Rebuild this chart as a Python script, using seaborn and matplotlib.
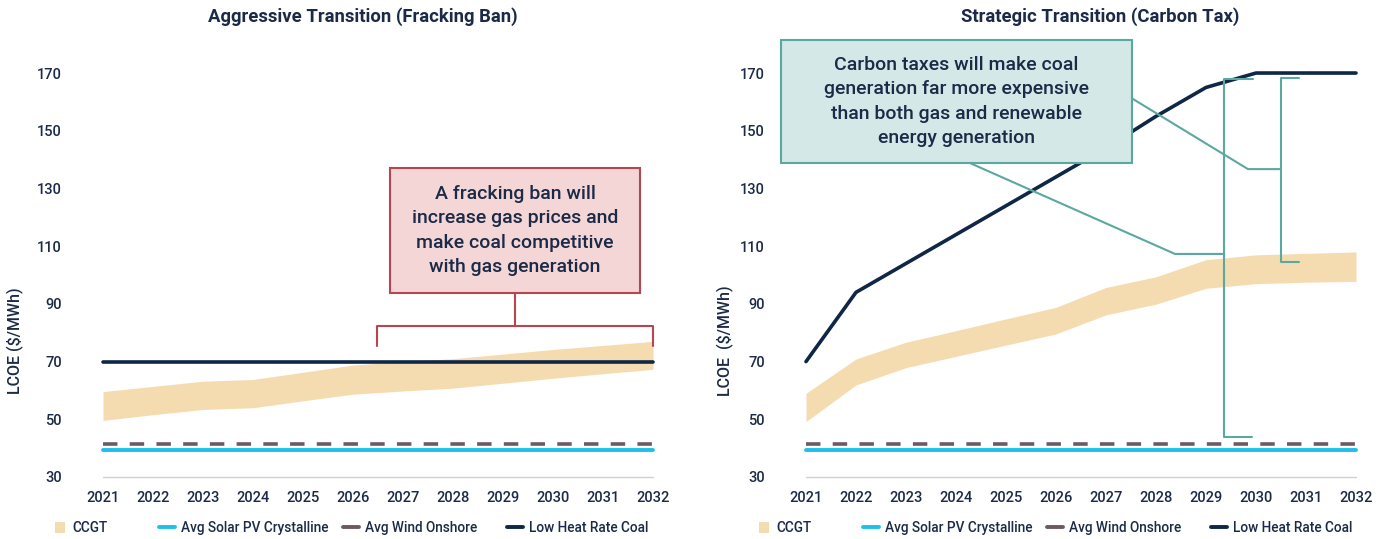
import matplotlib
matplotlib.use("Agg")
import matplotlib.pyplot as plt
import seaborn as sns
from matplotlib.patches import Rectangle, Patch
from matplotlib.lines import Line2D

# ---------------------------------------------------------------
# data (LCOE, $/MWh)
# ---------------------------------------------------------------
years = [2021, 2022, 2023, 2024, 2025, 2026, 2027, 2028, 2029, 2030, 2031, 2032]

# Aggressive Transition (Fracking Ban)
ccgt_low_frack = [49.6, 51.6, 53.4, 54.0, 56.4, 58.7, 59.8, 60.8, 62.5, 64.2, 65.8, 67.3]
ccgt_high_frack = [59.6, 61.4, 63.2, 63.8, 66.3, 68.8, 70.0, 71.0, 72.6, 74.2, 75.6, 77.0]
solar_frack = [39.5, 39.5, 39.5, 39.5, 39.5, 39.5, 39.5, 39.5, 39.5, 39.5, 39.5, 39.5]
wind_frack = [41.5, 41.5, 41.5, 41.5, 41.5, 41.5, 41.5, 41.5, 41.5, 41.5, 41.5, 41.5]
coal_frack = [70, 70, 70, 70, 70, 70, 70, 70, 70, 70, 70, 70]

# Strategic Transition (Carbon Tax)
ccgt_low_tax = [49.2, 61.9, 67.9, 71.8, 75.7, 79.6, 86.2, 89.9, 95.4, 97.0, 97.5, 97.8]
ccgt_high_tax = [59.0, 70.9, 76.7, 80.7, 84.8, 88.8, 95.7, 99.4, 105.3, 107.0, 107.5, 108.0]
solar_tax = [39.5, 39.5, 39.5, 39.5, 39.5, 39.5, 39.5, 39.5, 39.5, 39.5, 39.5, 39.5]
wind_tax = [41.5, 41.5, 41.5, 41.5, 41.5, 41.5, 41.5, 41.5, 41.5, 41.5, 41.5, 41.5]
coal_tax = [70, 94, 104, 114, 124, 134, 144, 155, 165, 170, 170, 170]

y_ticks = [30, 50, 70, 90, 110, 130, 150, 170]
titles = ["Aggressive Transition (Fracking Ban)", "Strategic Transition (Carbon Tax)"]
y_labels = ["LCOE ($/MWh)", "LCOE  ($/MWh)"]
legend_labels = ["CCGT", "Avg Solar PV Crystalline", "Avg Wind Onshore", "Low Heat Rate Coal"]

note_frack = "A fracking ban will\nincrease gas prices and\nmake coal competitive\nwith gas generation"
note_tax = ("Carbon taxes will make coal\ngeneration far more expensive\n"
            "than both gas and renewable\nenergy generation")

# ---------------------------------------------------------------
# style
# ---------------------------------------------------------------
C_CCGT = "#f4dcb0"
C_SOLAR = "#1ebfeb"
C_WIND = "#6e5866"
C_COAL = "#0f2646"
C_TEXT = "#1b2a47"
C_RED = "#b8454f"
C_RED_FILL = "#f4d6d7"
C_TEAL = "#5ba8a0"
C_TEAL_FILL = "#d4e9e7"

sns.set_theme(style="white")
plt.rcParams["font.family"] = ["Roboto", "DejaVu Sans"]

W, H = 1387, 539
fig = plt.figure(figsize=(W / 100, H / 100), dpi=100)


def px_rect(left, right, top, bottom):
    return [left / W, 1 - bottom / H, (right - left) / W, (bottom - top) / H]


ax1 = fig.add_axes(px_rect(66, 670, 58.6, 477))
ax2 = fig.add_axes(px_rect(769, 1373, 58.6, 477))

panels = [
    (ax1, ccgt_low_frack, ccgt_high_frack, solar_frack, wind_frack, coal_frack),
    (ax2, ccgt_low_tax, ccgt_high_tax, solar_tax, wind_tax, coal_tax),
]

for ax, lo, hi, solar, wind, coal in panels:
    ax.fill_between(years, lo, hi, color=C_CCGT, lw=0, zorder=1)
    sns.lineplot(x=years, y=solar, ax=ax, color=C_SOLAR, lw=2.8, zorder=3)
    sns.lineplot(x=years, y=wind, ax=ax, color=C_WIND, lw=2.6, zorder=3,
                 dashes=False)
    ax.lines[-1].set_dashes([4, 3.4])
    sns.lineplot(x=years, y=coal, ax=ax, color=C_COAL, lw=2.6, zorder=4)
    ax.set_xlim(2020.26, 2032.34)
    ax.set_ylim(30, 175)
    ax.set_xticks(years)
    ax.set_yticks(y_ticks)
    ax.tick_params(axis="x", length=0, pad=10, labelsize=10.5, colors=C_TEXT)
    ax.tick_params(axis="y", length=0, pad=3, labelsize=10.5, colors=C_TEXT)
    for lab in ax.get_xticklabels() + ax.get_yticklabels():
        lab.set_fontweight("medium")
    for s in ax.spines.values():
        s.set_visible(False)
    ax.plot([years[0], years[-1]], [30, 30], color="#d0d0d0", lw=1, zorder=0,
            clip_on=False)
    ax.grid(False)
    ax.set_xlabel("")
    ax.set_ylabel("")

# titles and y labels
fig.text(363 / W, 1 - 17 / H, titles[0], ha="center", va="center",
         fontsize=13.3, fontweight="bold", color=C_TEXT)
fig.text(1100 / W, 1 - 17 / H, titles[1], ha="center", va="center",
         fontsize=13.3, fontweight="bold", color=C_TEXT)
fig.text(15 / W, 1 - 341 / H, y_labels[0], rotation=90, ha="center",
         va="center", fontsize=11.5, fontweight="medium", color=C_TEXT)
fig.text(725 / W, 1 - 341 / H, y_labels[1], rotation=90, ha="center",
         va="center", fontsize=11.5, fontweight="medium", color=C_TEXT)

# annotation: fracking ban
ax1.add_patch(Rectangle((2026.74, 93.8), 5.0, 43.3, facecolor=C_RED_FILL,
                        edgecolor=C_RED, lw=1.5, zorder=6, clip_on=False))
ax1.text(2029.24, 115.4, note_frack, ha="center", va="center", fontsize=14,
         fontweight="medium", color=C_TEXT, linespacing=1.45, zorder=7)
ax1.plot([2029.24, 2029.24], [93.8, 82.3], color=C_RED, lw=1.5, zorder=6)
ax1.plot([2026.48, 2026.48, 2032.0, 2032.0], [75.4, 82.3, 82.3, 75.4],
         color=C_RED, lw=1.5, zorder=6, clip_on=False)

# annotation: carbon tax
ax2.add_patch(Rectangle((2020.5, 138.8), 7.02, 42.6, facecolor=C_TEAL_FILL,
                        edgecolor=C_TEAL, lw=1.5, zorder=6, clip_on=False))
ax2.text(2024.01, 160.1, note_tax, ha="center", va="center", fontsize=14,
         fontweight="medium", color=C_TEXT, linespacing=1.45, zorder=7)
ax2.plot([2024.28, 2028.38, 2029.36], [138.8, 107.3, 107.3], color=C_TEAL,
         lw=1.5, zorder=5)
ax2.plot([2029.94, 2029.36, 2029.36, 2029.92], [167.8, 167.8, 43.9, 43.9],
         color=C_TEAL, lw=1.5, zorder=5)
ax2.plot([2027.52, 2029.84, 2030.5], [161.2, 136.7, 136.7], color=C_TEAL,
         lw=1.5, zorder=5)
ax2.plot([2030.86, 2030.5, 2030.5, 2030.86], [168.4, 168.4, 104.5, 104.5],
         color=C_TEAL, lw=1.5, zorder=5)

# legends, one entry at a time so spacing follows the original
handles = [
    Patch(facecolor=C_CCGT, edgecolor="none"),
    Line2D([], [], color=C_SOLAR, lw=2.8),
    Line2D([], [], color=C_WIND, lw=2.8),
    Line2D([], [], color=C_COAL, lw=2.8),
]
entry_x = [55, 159, 343, 507]
for offset in (0, 704):
    for h, lab, x in zip(handles, legend_labels, entry_x):
        is_patch = isinstance(h, Patch)
        leg = fig.legend(
            handles=[h], labels=[lab], loc="center left",
            bbox_to_anchor=((x + offset) / W, 1 - 528 / H),
            frameon=False, fontsize=9.8, borderpad=0, borderaxespad=0,
            handlelength=0.7 if is_patch else 1.2,
            handleheight=0.9 if is_patch else 0.7,
            handletextpad=0.55 if is_patch else 0.4,
        )
        for t in leg.get_texts():
            t.set_color(C_TEXT)
            t.set_fontweight("medium")

fig.savefig("out.png", dpi=100, facecolor="white")
